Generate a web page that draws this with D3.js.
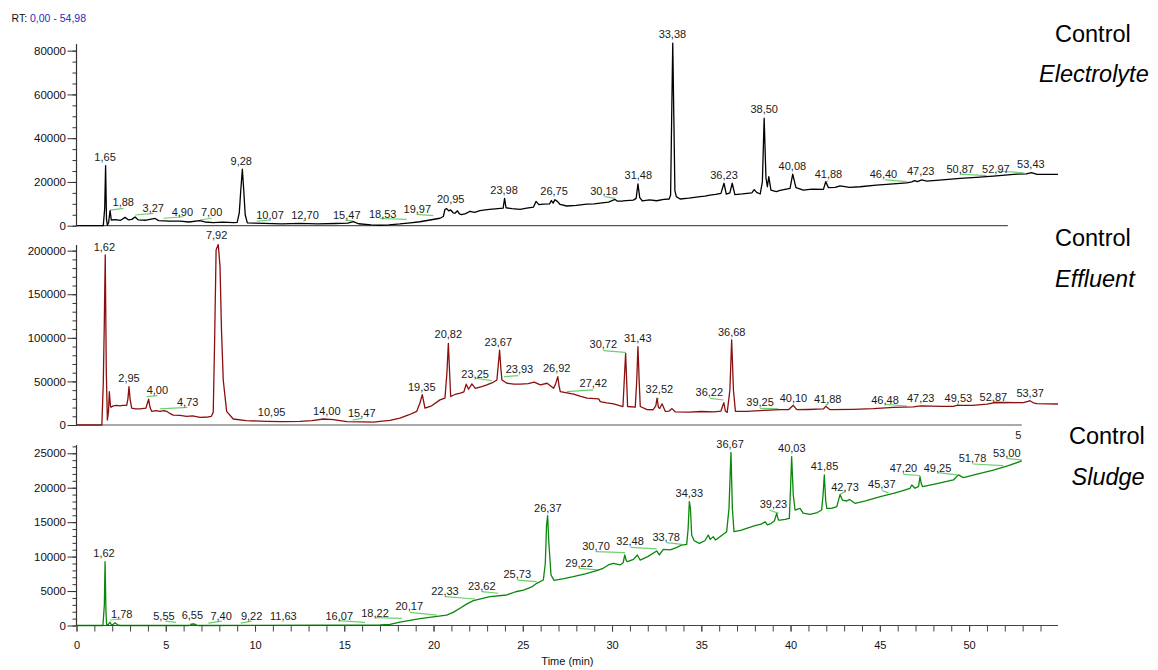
<!DOCTYPE html>
<html>
<head>
<meta charset="utf-8">
<script src="https://cdn.jsdelivr.net/npm/d3@7"></script>
<style>
  body { margin: 0; background: #fff; }
  svg { display: block; font-family: "Liberation Sans", Arial, sans-serif; }
</style>
</head>
<body>
<svg id="chart" width="1158" height="670"></svg>
<script>
// Retention time range (min)
const rtRange = [0, 54.98];

// Traces: [time (min), intensity]
const electrolyteTrace = [
  [0, 0], [1.50, 0], [1.58, 8000], [1.63, 27400], [1.68, 3000], [1.73, 200], [1.80, 1500], [1.88, 6900],
  [1.95, 2600], [2.2, 2800], [2.45, 2400], [2.72, 3800], [2.9, 2700], [3.1, 2900], [3.28, 4000], [3.45, 2700],
  [3.9, 2500], [4.4, 3300], [4.6, 2300], [5.2, 2100], [5.8, 2100], [6.3, 1700], [6.9, 2300], [7.2, 1700],
  [7.66, 1400], [8.2, 1600], [8.8, 1400], [9.0, 1500], [9.12, 6000], [9.2, 16000], [9.29, 25800], [9.37, 16000],
  [9.45, 5000], [9.57, 1300], [10.5, 1100], [11.5, 800], [12.5, 1100], [13.5, 800], [14.5, 1000], [15.2, 1200],
  [15.5, 1900], [15.8, 900], [16.5, 400], [17.0, 200], [17.5, 400], [18.12, 800], [18.7, 1300], [19.24, 1800],
  [19.8, 2600], [20.36, 3400], [20.55, 4200], [20.64, 7500], [20.74, 7800], [20.85, 6800], [20.96, 7200],
  [21.1, 5900], [21.2, 5700], [21.34, 6800], [21.45, 5400], [21.58, 5100], [21.8, 5500], [22.04, 6600],
  [22.3, 6100], [22.6, 6900], [23.0, 7300], [23.45, 7700], [23.9, 8000], [23.98, 12500], [24.06, 8200],
  [24.4, 7800], [24.85, 7500], [25.22, 8000], [25.6, 8500], [25.74, 11100], [25.9, 9600], [26.15, 9900],
  [26.5, 10000], [26.6, 11500], [26.7, 10300], [26.8, 11900], [26.95, 11000], [27.09, 9700], [27.46, 9000],
  [28.0, 9300], [28.58, 9900], [29.0, 10000], [29.33, 10300], [29.8, 10800], [30.17, 12000], [30.3, 11200],
  [30.6, 11300], [31.19, 11700], [31.35, 12500], [31.45, 19100], [31.55, 12800], [31.7, 11300], [32.1, 11800],
  [32.5, 11400], [32.9, 12000], [33.2, 12200], [33.28, 14000], [33.34, 50000], [33.40, 83400], [33.46, 50000],
  [33.52, 16000], [33.6, 13300], [33.81, 12200], [34.3, 12600], [34.93, 13300], [35.2, 13500], [35.49, 14000],
  [35.8, 14300], [36.1, 14800], [36.27, 19400], [36.4, 14400], [36.6, 15000], [36.73, 19400], [36.88, 14200],
  [37.3, 14500], [37.83, 15000], [37.96, 16500], [38.1, 15200], [38.3, 14500], [38.42, 20000], [38.52, 49100],
  [38.62, 22000], [38.7, 17800], [38.78, 22400], [38.9, 16300], [39.2, 15600], [39.41, 16100], [39.97, 17100],
  [40.12, 23600], [40.3, 17400], [40.72, 16300], [41.2, 16700], [41.84, 16600], [41.97, 20100], [42.12, 17400],
  [42.5, 17500], [42.77, 18200], [43.3, 17500], [43.89, 17800], [44.8, 18500], [45.76, 19100], [46.5, 19600],
  [46.79, 20000], [46.95, 20600], [47.1, 20100], [47.35, 20900], [47.63, 20400], [48.5, 20900], [49.5, 21600],
  [50.4, 22100], [51.36, 22700], [52.5, 23500], [53.2, 23700], [53.5, 24300], [53.8, 23500], [54.98, 23500]
];

const effluentTrace = [
  [0, 0], [1.42, 0], [1.5, 47800], [1.56, 120000], [1.61, 195000], [1.67, 60000], [1.73, 5700], [1.79, 15000],
  [1.84, 38200], [1.9, 22000], [1.93, 20300], [2.06, 21900], [2.25, 22500], [2.44, 21900], [2.6, 22600],
  [2.81, 22600], [2.88, 30000], [2.94, 44000], [3.0, 30000], [3.09, 19400], [3.3, 18500], [3.56, 18400],
  [3.89, 19400], [3.97, 25000], [4.04, 29600], [4.12, 20000], [4.21, 15700], [4.45, 16500], [4.68, 15700],
  [4.9, 16500], [5.05, 15700], [5.25, 13000], [5.42, 11400], [5.8, 11000], [6.17, 10000], [6.5, 10500],
  [6.92, 8800], [7.38, 9200], [7.55, 10000], [7.66, 14500], [7.74, 100000], [7.82, 200800], [7.94, 207000],
  [8.04, 181700], [8.12, 110000], [8.22, 51600], [8.41, 15700], [8.78, 6900], [9.5, 5000], [10.66, 4200],
  [11.5, 3800], [12.52, 4200], [13.2, 5000], [13.83, 6900], [14.39, 6100], [15.14, 3800], [16.0, 3500],
  [16.63, 3400], [17.0, 4200], [17.56, 5300], [18.12, 8000], [18.6, 11500], [19.06, 15700], [19.24, 25200],
  [19.37, 34800], [19.52, 19400], [19.9, 22000], [20.36, 28800], [20.64, 30800], [20.75, 60000], [20.83, 93700],
  [20.9, 60000], [20.96, 32700], [21.2, 35000], [21.5, 36500], [21.7, 38000], [21.83, 46800], [21.96, 41000],
  [22.15, 47100], [22.34, 42100], [22.7, 44000], [22.99, 46000], [23.3, 48500], [23.55, 51600], [23.63, 70000],
  [23.7, 86000], [23.77, 65000], [23.83, 51600], [24.11, 47900], [24.5, 47000], [24.86, 46800], [25.3, 47500],
  [25.64, 49100], [25.98, 46000], [26.36, 47900], [26.73, 42100], [26.85, 48000], [26.96, 55500], [27.03, 45000],
  [27.1, 38200], [27.85, 35500], [28.2, 33000], [28.6, 30800], [29.25, 30000], [29.34, 26800], [29.7, 25500],
  [30.09, 24300], [30.61, 21200], [30.68, 50000], [30.76, 82400], [30.82, 50000], [30.87, 21200], [31.3, 20500],
  [31.38, 50000], [31.45, 90000], [31.52, 50000], [31.58, 21200], [31.96, 17600], [32.3, 17500], [32.45, 22000],
  [32.52, 30800], [32.6, 20000], [32.67, 19000], [32.8, 24300], [32.98, 15700], [33.2, 16000], [33.36, 18800],
  [33.55, 15000], [34.3, 14800], [35.0, 15500], [35.7, 15000], [36.1, 16000], [36.18, 21000], [36.26, 25700],
  [36.35, 16000], [36.45, 14500], [36.6, 40000], [36.7, 97600], [36.8, 40000], [36.91, 15700], [37.57, 15700],
  [38.5, 16800], [39.43, 17600], [39.9, 17700], [40.15, 22600], [40.35, 17600], [41.0, 17800], [41.84, 18400],
  [41.97, 21400], [42.21, 17600], [43.5, 18000], [44.64, 18800], [45.76, 20300], [46.88, 20700], [47.07, 21400],
  [47.3, 21900], [48.5, 21400], [49.12, 21400], [49.31, 22600], [50.2, 22600], [51.0, 24000], [51.36, 25500],
  [53.04, 25600], [53.3, 27000], [53.41, 27900], [53.6, 25500], [53.79, 24500], [54.98, 24100]
];

const sludgeTrace = [
  [0, 0], [1.48, 0], [1.56, 3000], [1.60, 9270], [1.65, 2000], [1.69, 0], [1.8, 200], [1.88, 480], [1.95, 150],
  [2.03, 100], [2.16, 390], [2.3, 100], [2.44, 0], [6.3, 0], [6.54, 240], [6.8, 0], [17.0, 100], [17.56, 150],
  [18.12, 480], [19.24, 1010], [20.73, 1500], [21.1, 1900], [21.48, 2500], [21.85, 3100], [22.23, 3600],
  [23.16, 4190], [24.1, 4430], [24.6, 4900], [25.04, 5150], [25.5, 5600], [25.78, 6120], [26.15, 6600],
  [26.26, 9000], [26.33, 14500], [26.39, 15950], [26.46, 12000], [26.58, 7330], [26.75, 6550], [27.3, 6800],
  [27.83, 7090], [28.5, 7500], [29.14, 7960], [29.5, 8300], [29.79, 8790], [30.07, 9020], [30.45, 8790],
  [30.62, 9100], [30.71, 10240], [30.8, 9400], [30.86, 9270], [31.2, 9600], [31.42, 10240], [31.57, 9500],
  [32.0, 10000], [32.5, 10820], [32.65, 10240], [32.87, 11050], [33.25, 10970], [33.6, 11300], [33.9, 11680],
  [34.18, 11780], [34.26, 14000], [34.33, 17980], [34.39, 17000], [34.46, 13140], [34.6, 12300], [34.89, 11930],
  [35.2, 12300], [35.39, 13140], [35.5, 12500], [35.67, 12900], [35.8, 12400], [36.1, 13000], [36.42, 13620],
  [36.55, 17000], [36.66, 25140], [36.74, 17000], [36.83, 13620], [37.2, 13800], [37.54, 14110], [38.0, 14500],
  [38.35, 14700], [38.57, 15070], [38.7, 14600], [38.9, 14800], [39.1, 15200], [39.22, 16280], [39.32, 15300],
  [39.41, 15310], [39.7, 15400], [39.93, 15550], [40.0, 20000], [40.06, 24510], [40.15, 19000], [40.25, 16760],
  [40.4, 16900], [40.53, 17010], [40.7, 16300], [41.09, 16130], [41.5, 16400], [41.74, 16760], [41.82, 19000],
  [41.89, 21850], [41.97, 18000], [42.03, 17010], [42.3, 17000], [42.59, 17250], [42.77, 19000], [42.9, 18200],
  [43.15, 18070], [43.3, 18300], [43.61, 17740], [44.2, 18100], [44.83, 18560], [45.3, 18900], [45.76, 19190],
  [46.2, 19500], [46.69, 19920], [46.79, 20400], [46.97, 19920], [47.17, 20200], [47.25, 21600], [47.33, 20500],
  [47.4, 20160], [48.2, 20600], [49.12, 21130], [49.4, 21860], [49.68, 21470], [50.5, 22000], [51.36, 22570],
  [52.2, 23200], [52.95, 23880]
];

// Peak labels: [text, label time, label intensity]
const electrolyteLabels = [
  ["1,65", 1.6, 29700], ["1,88", 2.62, 9100], ["3,27", 4.3, 6100], ["4,90", 5.93, 4600], ["7,00", 7.57, 4600],
  ["9,28", 9.23, 27700], ["10,07", 10.84, 2900], ["12,70", 12.8, 2900], ["15,47", 15.14, 3000],
  ["18,53", 17.15, 3400], ["19,97", 19.09, 5900], ["20,95", 20.96, 10200], ["23,98", 23.95, 14500],
  ["26,75", 26.75, 14000], ["30,18", 29.55, 14000], ["31,48", 31.47, 21300], ["33,38", 33.38, 85700],
  ["36,23", 36.27, 21300], ["38,50", 38.52, 51400], ["40,08", 40.1, 25500], ["41,88", 42.12, 21900],
  ["46,40", 45.2, 21700], ["47,23", 47.29, 23200], ["50,87", 49.5, 24000], ["52,97", 51.5, 24300],
  ["53,43", 53.46, 26200]
];

const effluentLabels = [
  ["1,62", 1.56, 200000], ["2,95", 2.94, 49700], ["4,00", 4.53, 35200], ["4,73", 6.23, 21800],
  ["7,92", 7.85, 213400], ["10,95", 10.93, 10300], ["14,00", 14.02, 11000], ["15,47", 15.98, 8800],
  ["19,35", 19.34, 39000], ["20,82", 20.83, 99400], ["23,25", 22.33, 54300], ["23,67", 23.63, 91000],
  ["23,93", 24.81, 59300], ["26,92", 26.9, 60400], ["27,42", 28.95, 43200], ["30,72", 29.51, 88000],
  ["31,43", 31.44, 94900], ["32,52", 32.65, 36300], ["36,22", 35.45, 33700], ["36,68", 36.7, 102500],
  ["39,25", 38.29, 22200], ["40,10", 40.16, 26800], ["41,88", 42.08, 25600], ["46,48", 45.29, 24100],
  ["47,23", 47.29, 26800], ["49,53", 49.4, 26800], ["52,87", 51.36, 27900], ["53,37", 53.42, 31800]
];

const sludgeLabels = [
  ["1,62", 1.54, 9900], ["1,78", 2.53, 1040], ["5,55", 4.9, 800], ["6,55", 6.49, 940], ["7,40", 8.1, 800],
  ["9,22", 9.81, 800], ["11,63", 11.59, 800], ["16,07", 14.72, 800], ["18,22", 16.72, 1190],
  ["20,17", 18.64, 2250], ["22,33", 20.64, 4430], ["23,62", 22.7, 5150], ["25,73", 24.69, 6850],
  ["26,37", 26.4, 16520], ["29,22", 28.15, 8540], ["30,70", 29.1, 10960], ["32,48", 31.01, 11690],
  ["33,78", 33.03, 12320], ["34,33", 34.33, 18700], ["36,67", 36.61, 25730], ["39,23", 39.04, 17010],
  ["40,03", 40.07, 25240], ["41,85", 41.9, 22580], ["42,73", 43.05, 19570], ["45,37", 45.11, 19910],
  ["47,20", 46.32, 22330], ["49,25", 48.23, 22330], ["51,78", 50.19, 23690], ["53,00", 52.11, 24510],
  ["5", 52.76, 27080]
];

// Integration marks (green): [t0, I0, t1, I1]
const electrolyteMarks = [
  [1.88, 7100, 2.63, 7950], [3.28, 4900, 4.31, 5650], [4.87, 3400, 5.99, 4100], [6.92, 2600, 7.57, 3400],
  [10.1, 2100, 10.84, 2600], [12.71, 2100, 12.86, 2800], [15.04, 2600, 15.51, 2100], [17.0, 3300, 18.5, 2900],
  [19.06, 5200, 19.99, 4600], [29.61, 13300, 30.17, 12500], [41.93, 19600, 42.1, 20400],
  [45.3, 20900, 46.51, 20100], [49.5, 23600, 50.99, 22900], [51.55, 25000, 53.04, 24200]
];

const effluentMarks = [
  [3.93, 32500, 4.53, 33600], [4.68, 18400, 6.21, 20300], [15.47, 5700, 15.98, 7600],
  [22.33, 53600, 23.26, 50900], [23.95, 55400, 24.75, 56600], [27.46, 38200, 28.95, 40200],
  [29.51, 85300, 30.73, 83400], [32.55, 29000, 32.62, 30600], [35.49, 30600, 36.24, 28700],
  [38.29, 19100, 39.32, 18400], [41.95, 22000, 42.08, 24000], [45.3, 23700, 46.51, 21800],
  [49.31, 24500, 49.45, 22600], [51.36, 26800, 52.95, 25600]
];

const sludgeMarks = [
  [1.88, 800, 2.53, 940], [4.96, 640, 5.57, 450], [6.36, 240, 6.7, 150], [7.38, 350, 8.13, 640],
  [9.2, 350, 9.81, 640], [14.67, 700, 16.16, 450], [16.72, 1140, 18.22, 1040], [18.68, 1910, 20.18, 1520],
  [20.64, 4190, 22.33, 3850], [22.7, 4920, 23.63, 4680], [24.7, 6600, 25.78, 6360], [28.17, 8300, 29.23, 8060],
  [29.1, 10720, 30.73, 10580], [31.05, 11350, 32.5, 11110], [33.06, 12030, 33.9, 11780],
  [38.81, 16770, 39.32, 16280], [42.77, 19000, 43.05, 19500], [45.11, 19600, 45.48, 19260],
  [46.32, 21950, 47.25, 21770], [48.25, 22190, 49.34, 21860], [50.21, 23440, 51.92, 23210],
  [52.11, 24270, 52.95, 24030]
];

const sampleNames = [["Control", "Electrolyte"], ["Control", "Effluent"], ["Control", "Sludge"]];
const timeTicks = d3.range(0, 55, 5);

// ---- layout ----
const svg = d3.select("#chart");
const x = d3.scaleLinear().domain(rtRange).range([76.5, 1058]);

const panels = [
  { trace: electrolyteTrace, labels: electrolyteLabels, marks: electrolyteMarks, color: "#000000",
    yMax: 83000, y0: 225.7, y1: 44.1, major: 20000, minor: 5000, axisEnd: 52.17,
    name: { x1: 1055, y1: 42, x2: 1039, y2: 82, style: "italic" } },
  { trace: effluentTrace, labels: effluentLabels, marks: effluentMarks, color: "#8b0f0f",
    yMax: 206500, y0: 425, y1: 245, major: 50000, minor: 10000, axisEnd: 52.95,
    name: { x1: 1055, y1: 246, x2: 1055, y2: 286.5 } },
  { trace: sludgeTrace, labels: sludgeLabels, marks: sludgeMarks, color: "#0b870b",
    yMax: 26200, y0: 625.5, y1: 445, major: 5000, minor: 1000, axisEnd: null,
    name: { x1: 1069, y1: 444, x2: 1071.5, y2: 485 } }
];

panels.forEach((p, i) => {
  const y = d3.scaleLinear().domain([0, p.yMax]).range([p.y0, p.y1]);
  const g = svg.append("g");

  // green integration marks
  g.selectAll(".mark")
    .data(p.marks)
    .enter()
    .append("line")
    .attr("x1", d => x(d[0])).attr("y1", d => y(d[1]))
    .attr("x2", d => x(d[2])).attr("y2", d => y(d[3]))
    .attr("stroke", "#6fcf6f")
    .attr("stroke-width", 1.2);

  // baseline (time axis line) for the upper panels
  if (p.axisEnd !== null) {
    g.append("line")
      .attr("x1", x(0)).attr("x2", x(p.axisEnd))
      .attr("y1", y(0)).attr("y2", y(0))
      .attr("stroke", "#555").attr("stroke-width", 1.2);
  }

  // trace
  const line = d3.line().x(d => x(d[0])).y(d => y(d[1]));
  g.append("path")
    .datum(p.trace)
    .attr("d", line)
    .attr("fill", "none")
    .attr("stroke", p.color)
    .attr("stroke-width", 1.3)
    .attr("stroke-linejoin", "round");

  // y axis: minor ticks
  g.append("g")
    .attr("transform", `translate(${x(0)},0)`)
    .call(d3.axisLeft(y).tickValues(d3.range(0, p.yMax, p.minor)).tickSize(4).tickFormat(""))
    .call(ax => ax.select(".domain").remove())
    .call(ax => ax.selectAll("line").attr("stroke", "#333"));

  // y axis: major ticks + labels
  g.append("g")
    .attr("transform", `translate(${x(0)},0)`)
    .call(d3.axisLeft(y).tickValues(d3.range(0, p.yMax, p.major)).tickSize(9).tickPadding(1.5).tickFormat(d3.format("d")))
    .call(ax => ax.select(".domain").remove())
    .call(ax => ax.selectAll("line").attr("stroke", "#333"))
    .call(ax => ax.selectAll("text")
      .attr("fill", "#111")
      .style("font-size", "11.5px")
      .style("font-family", '"Liberation Sans", Arial, sans-serif'));

  g.append("line")
    .attr("x1", x(0)).attr("x2", x(0))
    .attr("y1", y(0) + 0.5).attr("y2", y(p.yMax))
    .attr("stroke", "#333").attr("stroke-width", 1.2);

  // peak labels
  g.selectAll(".plabel")
    .data(p.labels)
    .enter()
    .append("text")
    .attr("x", d => x(d[1]))
    .attr("y", d => y(d[2]))
    .attr("text-anchor", "middle")
    .attr("fill", "#1a1a1a")
    .style("font-size", "11px")
    .text(d => d[0]);

  // sample name on the right
  g.append("text")
    .attr("x", p.name.x1).attr("y", p.name.y1)
    .style("font-size", "23.5px").attr("fill", "#000")
    .text(sampleNames[i][0]);
  g.append("text")
    .attr("x", p.name.x2).attr("y", p.name.y2)
    .style("font-size", "23.5px").style("font-style", "italic").attr("fill", "#000")
    .text(sampleNames[i][1]);
});

// time axis under the last panel
const yBottom = 625.5;
const xg = svg.append("g").attr("transform", `translate(0,${yBottom})`);
xg.call(d3.axisBottom(x).tickValues(d3.range(0, 55, 1)).tickSize(6).tickFormat(""))
  .call(ax => ax.select(".domain").remove())
  .call(ax => ax.selectAll("line").attr("stroke", "#444"));
const xg2 = svg.append("g").attr("transform", `translate(0,${yBottom})`);
xg2.call(d3.axisBottom(x).tickValues(timeTicks).tickSize(6).tickPadding(10).tickFormat(d3.format("d")))
  .call(ax => ax.select(".domain").remove())
  .call(ax => ax.selectAll("line").attr("stroke", "#444"))
  .call(ax => ax.selectAll("text")
    .attr("fill", "#111")
    .style("font-size", "11px")
    .style("font-family", '"Liberation Sans", Arial, sans-serif'));
svg.append("line")
  .attr("x1", x(0)).attr("x2", x(rtRange[1]))
  .attr("y1", yBottom).attr("y2", yBottom)
  .attr("stroke", "#444").attr("stroke-width", 1.2);

svg.append("text")
  .attr("x", x(27.5)).attr("y", 665)
  .attr("text-anchor", "middle")
  .style("font-size", "11px").attr("fill", "#111")
  .text("Time (min)");

// RT range header
const rt = svg.append("text").attr("x", 11.5).attr("y", 21.5).style("font-size", "10.5px");
rt.append("tspan").attr("fill", "#111").text("RT: ");
rt.append("tspan").attr("fill", "#2a2ab8").text("0,00 - 54,98");

// clipped remnant of the y-axis title
svg.append("clipPath").attr("id", "ytclip")
  .append("rect").attr("x", 7).attr("y", 300).attr("width", 6).attr("height", 70);
svg.append("text")
  .attr("clip-path", "url(#ytclip)")
  .attr("transform", "translate(12,335) rotate(-90)")
  .attr("text-anchor", "middle")
  .style("font-size", "11px").attr("fill", "#444")
  .text("Relative Abundance");
</script>
</body>
</html>
